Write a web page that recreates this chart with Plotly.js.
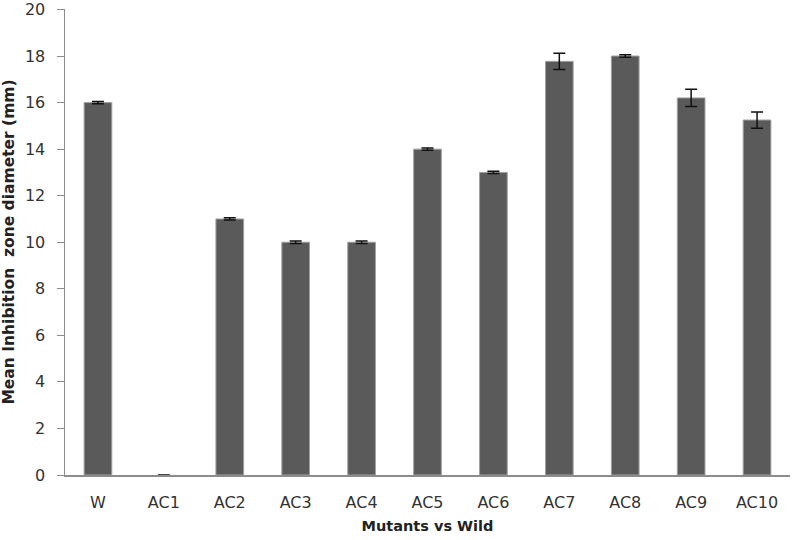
<!DOCTYPE html>
<html>
<head>
<meta charset="utf-8">
<script src="https://cdn.plot.ly/plotly-3.0.1.min.js"></script>
<style>html,body{margin:0;padding:0;background:#fff;}#chart{width:796px;height:540px;}</style>
</head>
<body>
<div id="chart"></div>
<script>
var categories = ["W","AC1","AC2","AC3","AC4","AC5","AC6","AC7","AC8","AC9","AC10"];
var meanValues = [16, 0, 11, 10, 10, 14, 13, 17.77, 18, 16.2, 15.25];
var errorValues = [0.05, 0, 0.05, 0.05, 0.05, 0.05, 0.05, 0.35, 0.05, 0.37, 0.35];
var yTickValues = [0,2,4,6,8,10,12,14,16,18,20];

var fontFam = "'DejaVu Sans', 'Liberation Sans', Arial, sans-serif";

var trace = {
  type: "bar",
  x: categories,
  y: meanValues,
  width: 0.42,
  marker: {color: "#5a5a5a", line: {color: "#a0a0a0", width: meanValues.map(function(v){ return v > 0 ? 1 : 0; })}},
  error_y: {type: "data", array: errorValues, visible: true, color: "#111", thickness: 1.5, width: 6},
  hoverinfo: "x+y"
};

var layout = {
  width: 796, height: 540,
  margin: {l: 65, r: 6, t: 9, b: 65},
  paper_bgcolor: "#fff", plot_bgcolor: "#fff",
  showlegend: false,
  font: {family: fontFam, color: "#333", size: 15},
  xaxis: {
    type: "category",
    showline: true, linecolor: "#8c8c8c", linewidth: 2,
    layer: "above traces",
    ticks: "", showgrid: false, zeroline: false,
    tickfont: {size: 16, color: "#333"},
    ticklabelstandoff: 12,
    title: {text: "<b>Mutants vs Wild</b>", font: {size: 14.5, color: "#222"}, standoff: 10}
  },
  yaxis: {
    range: [0, 20.02], tickvals: yTickValues, ticktext: yTickValues.map(String),
    showline: true, linecolor: "#8c8c8c", linewidth: 1.5,
    ticks: "outside", ticklen: 7, tickcolor: "#8c8c8c", tickwidth: 1,
    showgrid: false, zeroline: false,
    tickfont: {size: 16, color: "#333"},
    ticklabelstandoff: 8,
    ticklabeloverflow: "allow",
    title: {text: "<b>Mean Inhibition  zone diameter (mm)</b>", font: {size: 15.5, color: "#222"}, standoff: 10}
  }
};

Plotly.newPlot("chart", [trace], layout, {displayModeBar: false, staticPlot: true});
</script>
</body>
</html>
